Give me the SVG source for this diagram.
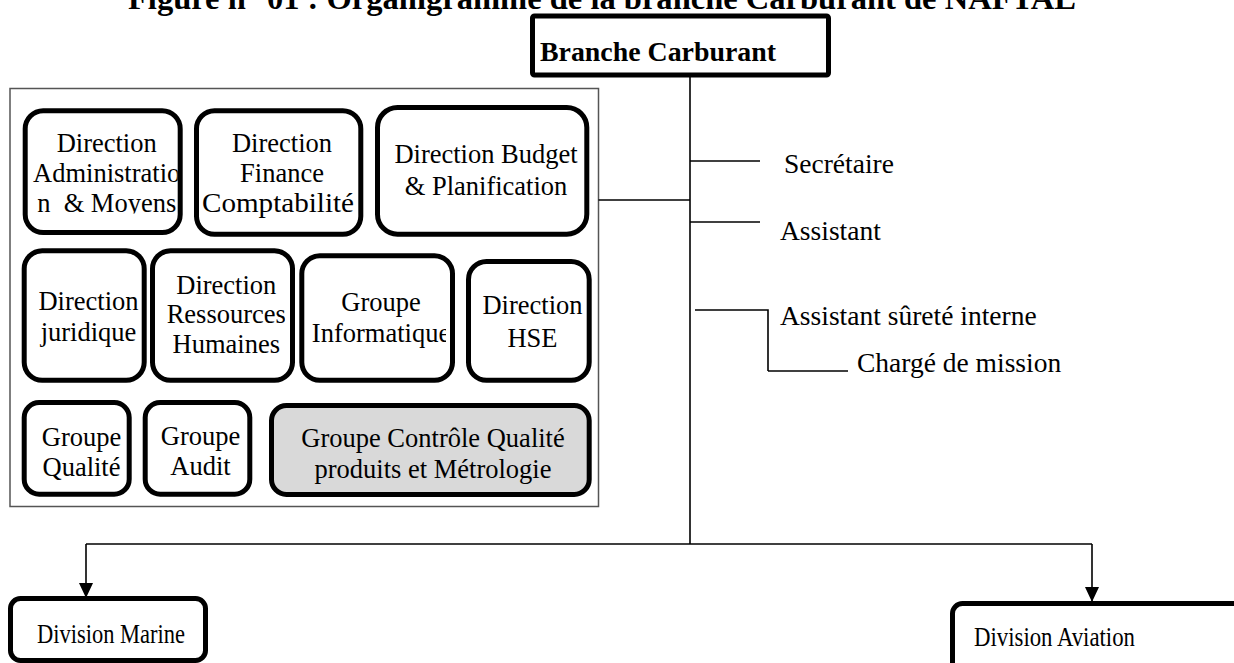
<svg xmlns="http://www.w3.org/2000/svg" width="1234" height="663" viewBox="0 0 1234 663">
  <style>
    .t { font-family: "Liberation Serif", "Times New Roman", serif; fill: #000; }
    .box { font-size: 26.5px; text-anchor: middle; }
    .lbl { font-size: 27.5px; }
    .div { font-size: 27.5px; }
    .head { font-size: 28px; font-weight: bold; }
    .title { font-size: 31px; font-weight: bold; }
    .unit { fill: #fff; stroke: #000; stroke-width: 5; }
    .link { fill: none; stroke: #000; stroke-width: 1.6; }
  </style>
  <defs>
    <marker id="arrow" markerWidth="15" markerHeight="14" viewBox="0 0 15 14" refX="15" refY="7" orient="auto" markerUnits="userSpaceOnUse">
      <path d="M0,0 L15,7 L0,14 z" fill="#000"/>
    </marker>
    <clipPath id="clip-adm"><rect x="26" y="115" width="151.7" height="98.5"/></clipPath>
    <clipPath id="clip-rh"><rect x="155" y="255" width="130.3" height="120"/></clipPath>
    <clipPath id="clip-info"><rect x="304" y="262" width="142" height="115"/></clipPath>
  </defs>

  <rect width="1234" height="663" fill="#fff"/>

  <!-- caption, partly above the page -->
  <text class="t title" x="128" y="8.5" textLength="948" lengthAdjust="spacingAndGlyphs">Figure n° 01 : Organigramme de la branche Carburant de NAFTAL</text>

  <!-- head node -->
  <g id="branche-carburant">
    <rect x="532.5" y="16" width="296" height="59" rx="2" fill="#fff" stroke="#000" stroke-width="5"/>
    <text class="t head" x="540" y="61" textLength="236" lengthAdjust="spacingAndGlyphs">Branche Carburant</text>
  </g>

  <!-- frame holding the functional directions -->
  <g id="directions-frame">
    <rect x="10" y="88.5" width="588.5" height="418" fill="#fff" stroke="#555" stroke-width="1.5"/>
  </g>

  <g id="dir-administration">
    <rect class="unit" x="25.2" y="110.8" width="155" height="121.7" rx="18"/>
    <g clip-path="url(#clip-adm)">
      <text class="t box" x="106.7" y="151.7">Direction</text>
      <text class="t box" x="106.7" y="181.7">Administratio</text>
      <text class="t box" x="106.7" y="211.7" xml:space="preserve">n  &amp; Moyens</text>
    </g>
  </g>

  <g id="dir-finance">
    <rect class="unit" x="196.5" y="110.8" width="164.3" height="123.4" rx="18"/>
    <text class="t box" x="282" y="151.7">Direction</text>
    <text class="t box" x="282" y="181.7">Finance</text>
    <text class="t box" x="278" y="211.7" textLength="152" lengthAdjust="spacingAndGlyphs">Comptabilité</text>
  </g>

  <g id="dir-budget">
    <rect class="unit" x="377.5" y="107.5" width="209.3" height="126.7" rx="20"/>
    <text class="t box" x="486" y="163">Direction Budget</text>
    <text class="t box" x="486" y="194.5">&amp; Planification</text>
  </g>

  <g id="dir-juridique">
    <rect class="unit" x="24.2" y="250.8" width="120" height="129.4" rx="18"/>
    <text class="t box" x="88.5" y="309.5">Direction</text>
    <text class="t box" x="88.5" y="340.7">juridique</text>
  </g>

  <g id="dir-rh">
    <rect class="unit" x="152.5" y="250.8" width="140" height="129.4" rx="18"/>
    <g clip-path="url(#clip-rh)">
      <text class="t box" x="226.3" y="294">Direction</text>
      <text class="t box" x="226.3" y="323">Ressources</text>
      <text class="t box" x="226.3" y="353">Humaines</text>
    </g>
  </g>

  <g id="grp-informatique">
    <rect class="unit" x="301.8" y="255.8" width="150.7" height="124.4" rx="18"/>
    <g clip-path="url(#clip-info)">
      <text class="t box" x="381" y="310.5">Groupe</text>
      <text class="t box" x="381" y="341.5">Informatique</text>
    </g>
  </g>

  <g id="dir-hse">
    <rect class="unit" x="468.5" y="261.5" width="120.7" height="118.7" rx="18"/>
    <text class="t box" x="532.5" y="313.5">Direction</text>
    <text class="t box" x="532.5" y="347">HSE</text>
  </g>

  <g id="grp-qualite">
    <rect class="unit" x="24.2" y="402.5" width="105" height="91.7" rx="15"/>
    <text class="t box" x="81.5" y="446">Groupe</text>
    <text class="t box" x="81.5" y="476">Qualité</text>
  </g>

  <g id="grp-audit">
    <rect class="unit" x="145.2" y="402.5" width="104.6" height="91.7" rx="15"/>
    <text class="t box" x="200.5" y="445">Groupe</text>
    <text class="t box" x="200.5" y="475">Audit</text>
  </g>

  <g id="grp-controle-qualite">
    <rect class="unit" x="271.5" y="405.5" width="317.7" height="89" rx="15" style="fill:#d9d9d9"/>
    <text class="t box" x="433" y="447">Groupe Contrôle Qualité</text>
    <text class="t box" x="433" y="478">produits et Métrologie</text>
  </g>

  <!-- staff positions attached to the head -->
  <g id="staff-secretaire">
    <text class="t lbl" x="784" y="172.5">Secrétaire</text>
  </g>
  <g id="staff-assistant">
    <text class="t lbl" x="780" y="240">Assistant</text>
  </g>
  <g id="staff-surete">
    <text class="t lbl" x="780" y="325">Assistant sûreté interne</text>
  </g>
  <g id="staff-mission">
    <text class="t lbl" x="857" y="371.5">Chargé de mission</text>
  </g>

  <!-- divisions -->
  <g id="division-marine">
    <rect class="unit" x="10.5" y="598.5" width="195" height="62" rx="10"/>
    <text class="t div" x="37" y="643" textLength="148" lengthAdjust="spacingAndGlyphs">Division Marine</text>
  </g>
  <g id="division-aviation">
    <rect class="unit" x="952.5" y="603.5" width="300" height="80" rx="10"/>
    <text class="t div" x="974" y="645.5" textLength="161" lengthAdjust="spacingAndGlyphs">Division Aviation</text>
  </g>

  <!-- connectors -->
  <g id="connectors">
    <path class="link" d="M690,77 V544"/>
    <path class="link" d="M598.5,200 H690"/>
    <path class="link" d="M690,161 H760"/>
    <path class="link" d="M690,222 H760"/>
    <path class="link" d="M695,310 H768 V371"/>
    <path class="link" d="M768,371 H848" stroke-width="2.2"/>
    <path class="link" d="M86,544 H1092" stroke="#333" stroke-width="2"/>
    <path class="link" d="M86,544 V598" marker-end="url(#arrow)"/>
    <path class="link" d="M1092,544 V602" marker-end="url(#arrow)"/>
  </g>
</svg>
